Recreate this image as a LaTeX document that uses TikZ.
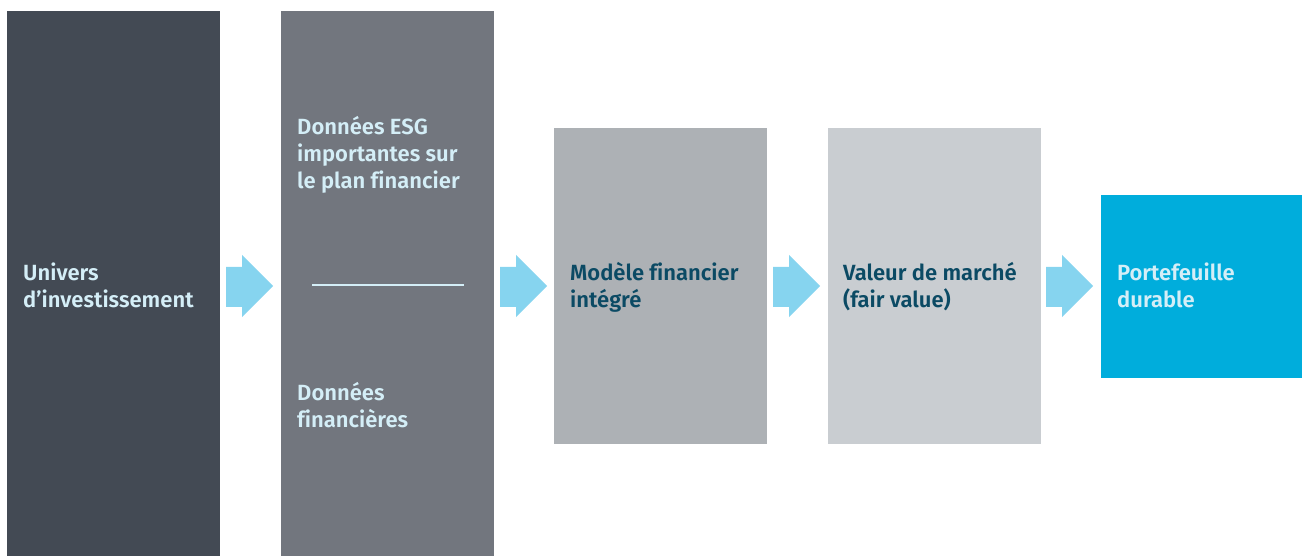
\documentclass[tikz,border=0pt]{standalone}
\usepackage{fontspec}
\setmainfont{Fira Sans}[BoldFont={Fira Sans SemiBold}, Ligatures=NoCommon]
\usetikzlibrary{positioning}

\definecolor{darkslate}{HTML}{434A54}
\definecolor{midslate}{HTML}{72767E}
\definecolor{lightslate}{HTML}{ADB1B5}
\definecolor{paleslate}{HTML}{C9CDD1}
\definecolor{ocean}{HTML}{00ADDC}
\definecolor{arrowblue}{HTML}{86D4EF}
\definecolor{lighttext}{HTML}{D4EEF7}
\definecolor{darktext}{HTML}{0B4A64}

\begin{document}
\begin{tikzpicture}[x=1pt, y=-1pt,
  stage/.style={fill=#1, anchor=north west, inner sep=0pt, outer sep=0pt,
    minimum width=213pt},
  lbl/.style={text=#1, anchor=base west, inner sep=0pt, align=left,
    font=\fontsize{22}{27}\selectfont\bfseries},
  flow/.style={fill=arrowblue}]
  \useasboundingbox (0,0) rectangle (1302,556);

  % the five stages
  \node[stage=darkslate, minimum height=545pt] (univers) at (7,11) {};
  \node[stage=midslate, minimum height=545pt] (donnees) at (281,11) {};
  \node[stage=lightslate, minimum height=316pt] (modele) at (554,128) {};
  \node[stage=paleslate, minimum height=316pt] (valeur) at (828,128) {};
  \node[stage=ocean, minimum width=201pt, minimum height=183pt] (portef) at (1101,195) {};

  % texts (placed at the baseline of their last line)
  \node[lbl=lighttext] (univers-txt) at (23,308) {Univers\\d’investissement};
  \node[lbl=lighttext] (esg-txt) at (297,189) {Données ESG\\importantes sur\\le plan financier};
  \node[lbl=lighttext] (fin-txt) at (297,427) {Données\\financières};
  \node[lbl=darktext] (modele-txt) at (570,308) {Modèle financier\\intégré};
  \node[lbl=darktext] (valeur-txt) at (843,308) {Valeur de marché\\(fair value)};
  \node[lbl=lighttext] (portef-txt) at (1117,308) {Portefeuille\\durable};

  % separator
  \draw[lighttext, line width=1.5pt] (312,285) -- (464,285);

  % block arrows
  \foreach \ax in {226,500,773,1046}
    \fill[flow] (\ax,267) -- (\ax+16,267) -- (\ax+16,255) -- (\ax+47,286)
      -- (\ax+16,317) -- (\ax+16,307) -- (\ax,307) -- cycle;
\end{tikzpicture}
\end{document}
